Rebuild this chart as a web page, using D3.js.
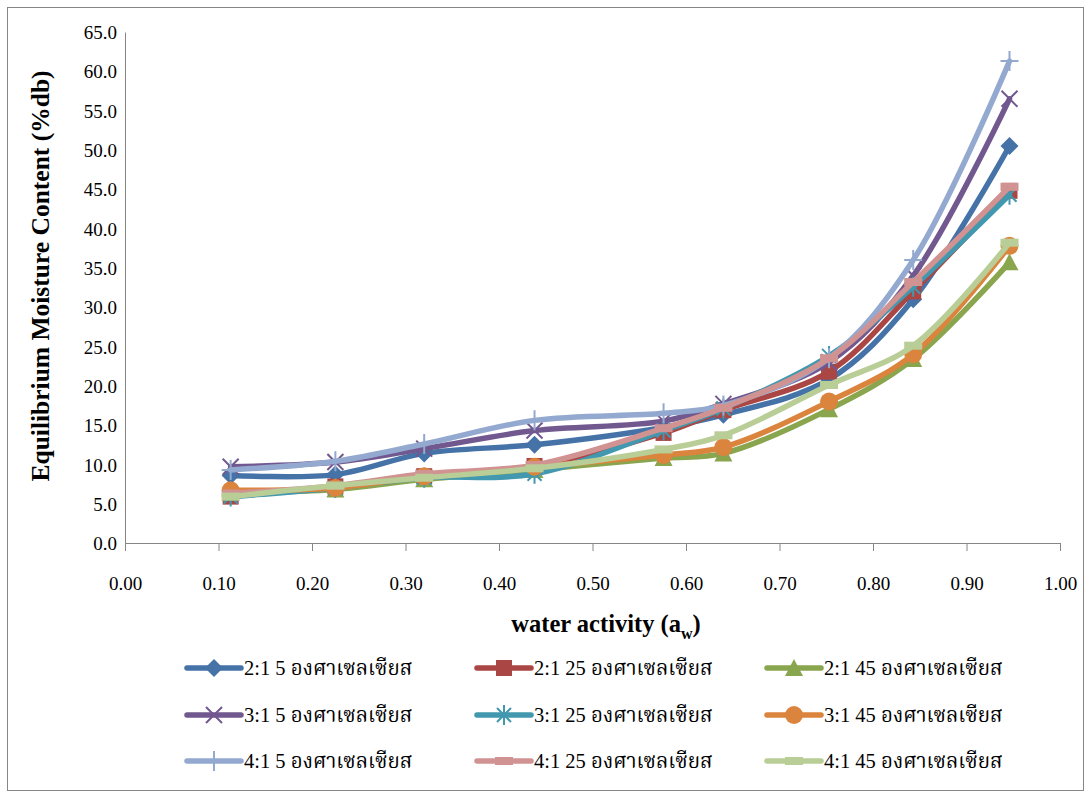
<!DOCTYPE html>
<html>
<head>
<meta charset="utf-8">
<script src="https://cdn.jsdelivr.net/npm/d3@7/dist/d3.min.js"></script>
<style>
  html, body { margin: 0; padding: 0; background: #fff; }
  svg text { font-family: "Liberation Serif", "Times New Roman", "Noto Serif Thai", "Noto Sans Thai", serif; fill: #000; }
</style>
</head>
<body>
<svg id="chart" width="1091" height="798"></svg>
<script>
// Water activity of the salt solutions (x values)
const waterActivity = [0.113, 0.225, 0.32, 0.438, 0.576, 0.640, 0.753, 0.843, 0.946];

// Equilibrium moisture content (%db), one array per ratio / temperature
const emc_2_1_5  = [8.6, 8.7, 11.4, 12.5, 14.7, 16.3, 20.8, 31.0, 50.5];
const emc_2_1_25 = [5.9, 7.2, 8.5, 9.8, 14.0, 16.9, 21.8, 32.0, 44.8];
const emc_2_1_45 = [6.4, 6.8, 8.1, 9.3, 10.8, 11.4, 17.0, 23.4, 35.7];
const emc_3_1_5  = [9.7, 10.3, 12.0, 14.3, 15.5, 17.7, 23.0, 34.0, 56.5];
const emc_3_1_25 = [5.9, 7.0, 8.3, 8.8, 14.3, 17.1, 23.8, 32.6, 44.3];
const emc_3_1_45 = [6.7, 7.0, 8.5, 9.7, 11.2, 12.2, 18.0, 24.0, 37.8];
const emc_4_1_5  = [9.3, 10.4, 12.6, 15.6, 16.5, 17.5, 23.5, 36.0, 61.3];
const emc_4_1_25 = [6.3, 7.3, 8.8, 9.9, 14.6, 17.2, 23.5, 33.2, 45.3];
const emc_4_1_45 = [5.9, 7.3, 8.3, 9.5, 11.9, 13.7, 20.1, 25.1, 38.2];

const seriesNames = [
  "2:1 5 องศาเซลเซียส", "2:1 25 องศาเซลเซียส", "2:1 45 องศาเซลเซียส",
  "3:1 5 องศาเซลเซียส", "3:1 25 องศาเซลเซียส", "3:1 45 องศาเซลเซียส",
  "4:1 5 องศาเซลเซียส", "4:1 25 องศาเซลเซียส", "4:1 45 องศาเซลเซียส"
];
const seriesValues = [emc_2_1_5, emc_2_1_25, emc_2_1_45, emc_3_1_5, emc_3_1_25, emc_3_1_45, emc_4_1_5, emc_4_1_25, emc_4_1_45];
const seriesColors = ["#4572A7", "#AA4643", "#89A54E", "#71588F", "#4198AF", "#DB843D", "#93A9CF", "#D19392", "#B9CD96"];
const seriesMarkers = ["diamond", "square", "triangle", "x", "star", "circle", "plus", "dash", "dash"];

const xTicks = [0.0, 0.1, 0.2, 0.3, 0.4, 0.5, 0.6, 0.7, 0.8, 0.9, 1.0];
const yTicks = [0, 5, 10, 15, 20, 25, 30, 35, 40, 45, 50, 55, 60, 65];

const svg = d3.select("#chart");

// outer chart border
svg.append("rect")
  .attr("x", 7.5).attr("y", 7.5).attr("width", 1076).attr("height", 783)
  .attr("fill", "#fff").attr("stroke", "#868686").attr("stroke-width", 1);

const x = d3.scaleLinear().domain([0, 1]).range([125, 1060]);
const y = d3.scaleLinear().domain([0, 65]).range([543, 32]);

// y axis: line only, labels on the left
const yAxis = svg.append("g").attr("transform", `translate(${x(0)},0)`)
  .call(d3.axisLeft(y).tickValues(yTicks).tickFormat(d3.format(".1f")).tickSize(0).tickPadding(8));
yAxis.select(".domain").attr("stroke", "#868686").attr("stroke-width", 1);
yAxis.selectAll("text").attr("font-size", 19).attr("font-family", "Liberation Serif").attr("dy", "0.35em");

// x axis with downward ticks
const xAxis = svg.append("g").attr("transform", `translate(0,${y(0)})`)
  .call(d3.axisBottom(x).tickValues(xTicks).tickFormat(d3.format(".2f")).tickSizeInner(8).tickSizeOuter(0).tickPadding(26));
xAxis.select(".domain").attr("stroke", "#868686").attr("stroke-width", 1);
xAxis.selectAll(".tick line").attr("stroke", "#868686");
xAxis.selectAll("text").attr("font-size", 19).attr("font-family", "Liberation Serif");

// axis titles
const xTitle = svg.append("text")
  .attr("x", 606).attr("y", 632).attr("text-anchor", "middle")
  .attr("font-size", 24.5).attr("font-weight", "bold");
xTitle.append("tspan").text("water activity (a");
xTitle.append("tspan").text("w").attr("font-size", 16).attr("dy", 7);
xTitle.append("tspan").text(")").attr("dy", -7);

svg.append("text")
  .attr("transform", "translate(49,276) rotate(-90)")
  .attr("text-anchor", "middle")
  .attr("font-size", 25.5).attr("font-weight", "bold")
  .text("Equilibrium Moisture Content (%db)");

// marker drawing
function drawMarker(g, type, cx, cy, color) {
  const s = 9;
  switch (type) {
    case "diamond":
      g.append("path").attr("d", `M${cx},${cy - s}L${cx + s},${cy}L${cx},${cy + s}L${cx - s},${cy}Z`).attr("fill", color);
      break;
    case "square":
      g.append("rect").attr("x", cx - 8).attr("y", cy - 8).attr("width", 16).attr("height", 16).attr("fill", color);
      break;
    case "triangle":
      g.append("path").attr("d", `M${cx},${cy - 9}L${cx + 9},${cy + 8}L${cx - 9},${cy + 8}Z`).attr("fill", color);
      break;
    case "circle":
      g.append("circle").attr("cx", cx).attr("cy", cy).attr("r", 9).attr("fill", color);
      break;
    case "x":
      g.append("path").attr("d", `M${cx - 8},${cy - 8}L${cx + 8},${cy + 8}M${cx - 8},${cy + 8}L${cx + 8},${cy - 8}`)
        .attr("stroke", color).attr("stroke-width", 2).attr("fill", "none");
      break;
    case "star":
      g.append("path").attr("d", `M${cx - 7},${cy - 7}L${cx + 7},${cy + 7}M${cx - 7},${cy + 7}L${cx + 7},${cy - 7}M${cx},${cy - 10}L${cx},${cy + 10}`)
        .attr("stroke", color).attr("stroke-width", 2).attr("fill", "none");
      break;
    case "plus":
      g.append("path").attr("d", `M${cx - 9},${cy}L${cx + 9},${cy}M${cx},${cy - 10}L${cx},${cy + 10}`)
        .attr("stroke", color).attr("stroke-width", 2).attr("fill", "none");
      break;
    case "dash":
      g.append("rect").attr("x", cx - 9).attr("y", cy - 4).attr("width", 18).attr("height", 8).attr("fill", color);
      break;
  }
}

const line = d3.line()
  .x((d, i) => x(waterActivity[i]))
  .y(d => y(d))
  .curve(d3.curveCatmullRom.alpha(0.5));

// series: each line followed by its markers
seriesValues.forEach((vals, k) => {
  const g = svg.append("g");
  g.append("path").attr("d", line(vals))
    .attr("fill", "none").attr("stroke", seriesColors[k])
    .attr("stroke-width", 5.5).attr("stroke-linejoin", "round").attr("stroke-linecap", "round");
  vals.forEach((v, i) => drawMarker(g, seriesMarkers[k], x(waterActivity[i]), y(v), seriesColors[k]));
});

// legend: 3 columns x 3 rows
const legendCols = [187, 477, 767];
const legendRows = [668, 715, 761];
seriesNames.forEach((name, k) => {
  const lx = legendCols[k % 3], ly = legendRows[Math.floor(k / 3)];
  const g = svg.append("g");
  g.append("line").attr("x1", lx).attr("x2", lx + 54).attr("y1", ly).attr("y2", ly)
    .attr("stroke", seriesColors[k]).attr("stroke-width", 5.5).attr("stroke-linecap", "round");
  drawMarker(g, seriesMarkers[k], lx + 27, ly, seriesColors[k]);
  g.append("text").attr("x", lx + 57).attr("y", ly).attr("dy", "0.35em")
    .attr("font-size", 20.5).text(name);
});
</script>
</body>
</html>
